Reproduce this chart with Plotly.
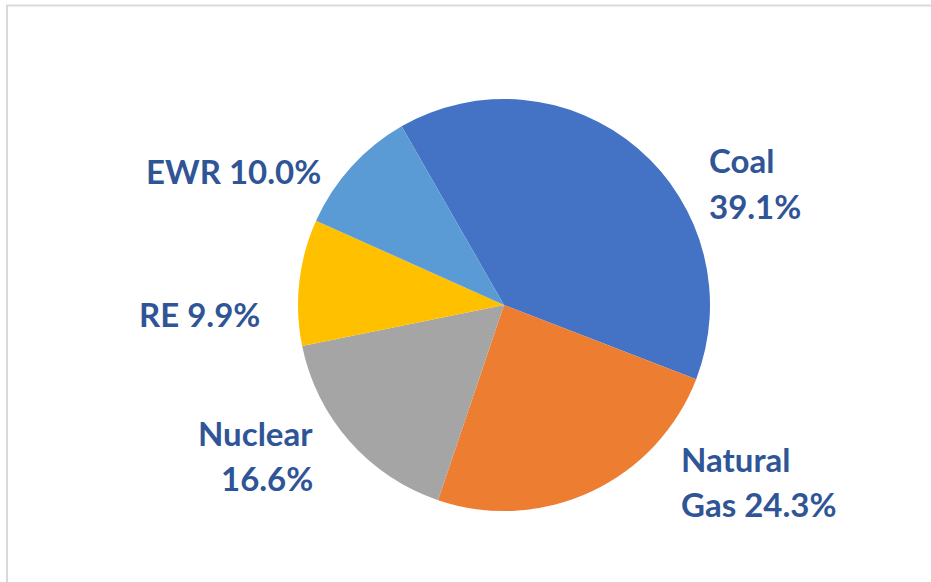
import plotly.graph_objects as go

# ---- data ----
categories = ["Coal", "Natural Gas", "Nuclear", "RE", "EWR"]
shares = [39.1, 24.3, 16.6, 9.9, 10.0]
colors = ["#4472C4", "#ED7D31", "#A5A5A5", "#FFC000", "#5B9BD5"]
# how each label is broken into lines ({v} -> value text)
label_formats = ["Coal\n{v}", "Natural\nGas {v}", "Nuclear\n{v}", "RE {v}", "EWR {v}"]

W, H = 931, 582
cx, cy, r = 504, 305, 206

fig = go.Figure()
fig.add_trace(go.Pie(
    labels=categories,
    values=shares,
    sort=False,
    direction="clockwise",
    rotation=-29.8,
    marker=dict(colors=colors, line=dict(width=0)),
    textinfo="none",
    hoverinfo="label+percent",
    showlegend=False,
    domain=dict(x=[(cx - r) / W, (cx + r) / W], y=[(H - (cy + r)) / H, (H - (cy - r)) / H]),
))

# label placement (pixel positions of each line: anchor x, cap-middle y, x anchor side)
label_pos = [
    [(707, 161, "left"), (707, 207, "left")],
    [(679, 460, "left"), (679, 505, "left")],
    [(315, 434, "right"), (315, 479, "right")],
    [(262, 315, "right")],
    [(323, 172, "right")],
]

annotations = []
for fmt, val, pos in zip(label_formats, shares, label_pos):
    lines = fmt.format(v=f"{val:.1f}%").split("\n")
    for line, (px, py, side) in zip(lines, pos):
        annotations.append(dict(
            text=line, x=px / W, y=1 - (py - 1) / H, xref="paper", yref="paper",
            xanchor=side, yanchor="middle", showarrow=False,
            font=dict(family="Lato", size=33, color="#2F5597", weight="bold"),
        ))

fig.update_layout(
    width=W, height=H,
    margin=dict(l=0, r=0, t=0, b=0),
    paper_bgcolor="white",
    plot_bgcolor="white",
    annotations=annotations,
    shapes=[dict(type="rect", xref="paper", yref="paper",
                 x0=7 / W, x1=1.02, y0=-0.02, y1=1 - 5.5 / H,
                 line=dict(color="#D9D9D9", width=2), layer="below")],
)

fig.write_html(
    "out.html",
    config={"displayModeBar": False},
    post_script="document.body.style.margin='0';document.body.style.overflow='hidden';",
)
